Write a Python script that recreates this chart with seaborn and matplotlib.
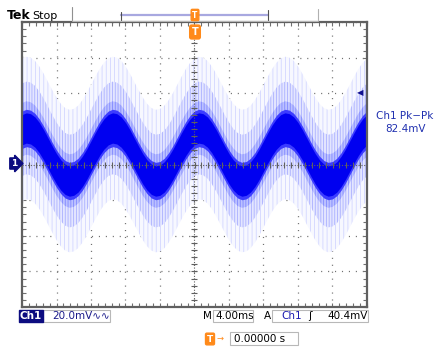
import matplotlib
matplotlib.use("Agg")
import matplotlib.pyplot as plt
import numpy as np
import pandas as pd
import seaborn as sns

t_ms = [x / 2 for x in range(-40, 41)]
center_mv = [19.5, 20.5, 20.0, 18.2, 15.1, 11.1, 6.5, 1.9, -2.4, -5.9,
             -8.3, -9.3, -8.8, -7.0, -3.9, 0.1, 4.7, 9.3, 13.6, 17.1,
             19.5, 20.5, 20.0, 18.2, 15.1, 11.1, 6.5, 1.9, -2.4, -5.9,
             -8.3, -9.3, -8.8, -7.0, -3.9, 0.1, 4.7, 9.3, 13.6, 17.1,
             19.5, 20.5, 20.0, 18.2, 15.1, 11.1, 6.5, 1.9, -2.4, -5.9,
             -8.3, -9.3, -8.8, -7.0, -3.9, 0.1, 4.7, 9.3, 13.6, 17.1,
             19.5, 20.5, 20.0, 18.2, 15.1, 11.1, 6.5, 1.9, -2.4, -5.9,
             -8.3, -9.3, -8.8, -7.0, -3.9, 0.1, 4.7, 9.3, 13.6, 17.1,
             19.5]
core_half_mv = 8.5
edge_half_mv = 10.5
noise_layers_mv = [40, 26, 15]

ch1_label = "Ch1"
scale_label = "20.0mV"
timebase_label = "4.00ms"
trig_level_label = "40.4mV"
pkpk_title = "Ch1 Pk\u2212Pk"
pkpk_value = "82.4mV"
trig_pos_label = "0.00000 s"
trig_level_mv = 40.4

df = pd.DataFrame({"t": t_ms, "v": center_mv})

sns.set_theme(style="white")
plt.rcParams["font.family"] = ["DejaVu Sans"]
plt.rcParams["lines.scale_dashes"] = False
plt.rcParams["hatch.linewidth"] = 0.6

W, H = 440, 352
fig = plt.figure(figsize=(W / 100, H / 100), dpi=100)
fig.patch.set_facecolor("white")

def fx(px):
    return px / W

def fy(py):
    return 1 - py / H

ax = fig.add_axes([fx(22), fy(307), fx(367) - fx(22), fy(22) - fy(307)])
ax.set_xlim(-20, 20)
ax.set_ylim(-80, 80)
ax.set_facecolor("white")

# noise layers (outer -> inner)
ax.fill_between(df["t"], df["v"] - noise_layers_mv[0], df["v"] + noise_layers_mv[0],
                facecolor="#f7f8ff", edgecolor="#d2d6ff", hatch="||||", lw=0, zorder=1)
ax.fill_between(df["t"], df["v"] - noise_layers_mv[1], df["v"] + noise_layers_mv[1],
                facecolor="#e4e6ff", edgecolor="#aab0ff", hatch="||||||", lw=0, zorder=1.1)
ax.fill_between(df["t"], df["v"] - noise_layers_mv[2], df["v"] + noise_layers_mv[2],
                facecolor="#bcc1ff", edgecolor="#8088ff", hatch="||||||", lw=0, zorder=1.2)
ax.fill_between(df["t"], df["v"] - edge_half_mv, df["v"] + edge_half_mv,
                color="#3c3cff", lw=0, zorder=1.3)
ax.fill_between(df["t"], df["v"] - core_half_mv, df["v"] + core_half_mv,
                color="#0000f0", lw=0, zorder=1.35)
sns.lineplot(data=df, x="t", y="v", color="#0000f0", lw=1, ax=ax, zorder=1.4)

# graticule
major_x = np.arange(-20, 20.01, 4)
minor_x = np.arange(-20, 20.01, 0.8)
major_y = np.arange(-80, 80.01, 20)
minor_y = np.arange(-80, 80.01, 4)
ax.set_xticks(major_x)
ax.set_xticks(minor_x, minor=True)
ax.set_yticks(major_y)
ax.set_yticks(minor_y, minor=True)
ax.set_xticklabels([])
ax.set_yticklabels([])
ax.set_xlabel("")
ax.set_ylabel("")
ax.tick_params(which="both", direction="in", top=True, right=True, bottom=True, left=True,
               color="#707070", width=0.8)
ax.tick_params(which="major", length=3)
ax.tick_params(which="minor", length=3)
ax.grid(True, which="major", color="#707070", lw=0.9, linestyle=(0, (0.8, 4.2)), zorder=2)
for s in ax.spines.values():
    s.set_color("#606060")
    s.set_linewidth(1.6)
    s.set_visible(True)
# center crosshair ticks
ax.plot(minor_x, np.zeros_like(minor_x), ls="none", marker="|", ms=4, mew=0.8, color="#606060", zorder=2)
ax.plot(np.zeros_like(minor_y), minor_y, ls="none", marker="_", ms=4, mew=0.8, color="#606060", zorder=2)
ax.axhline(0, color="#606060", lw=0.8, ls=(0, (0.8, 1.2)), zorder=2)
ax.axvline(0, color="#606060", lw=0.8, ls=(0, (0.8, 1.2)), zorder=2)

# trigger level arrow on the right edge
ax.annotate("\u25C0", xy=(20, trig_level_mv), xytext=(-5, 0), textcoords="offset points",
            ha="center", va="center", fontsize=6, color="#101090", annotation_clip=False)

# ---- header ----
fig.text(fx(7), fy(19), "Tek", fontsize=9, fontweight="bold", color="black", ha="left", va="baseline")
fig.text(fx(32), fy(19), "Stop", fontsize=8, color="black", ha="left", va="baseline")
fig.add_artist(plt.Line2D([fx(72), fx(72)], [fy(7), fy(20)], color="#909090", lw=0.8))
fig.add_artist(plt.Line2D([fx(318), fx(318)], [fy(9), fy(20)], color="#b0b0b0", lw=0.8))
fig.add_artist(plt.Line2D([fx(72), fx(318)], [fy(20.5), fy(20.5)], color="#c8c8c8", lw=0.6))
fig.add_artist(plt.Line2D([fx(121), fx(268)], [fy(14.7), fy(14.7)], color="#a8a8e0", lw=1.6))
fig.add_artist(plt.Line2D([fx(121), fx(121)], [fy(12), fy(20)], color="#505050", lw=0.8))
fig.add_artist(plt.Line2D([fx(268), fx(268)], [fy(10), fy(20)], color="#505050", lw=0.8))
# small trigger flag on the record bar
fig.text(fx(195), fy(15), "T", fontsize=5.5, fontweight="bold", color="white", ha="center", va="center",
         bbox=dict(boxstyle="round,pad=0.15", fc="#ff8a1a", ec="#ff8a1a"))
# trigger position marker
fig.text(fx(195), fy(32), "T", fontsize=7, fontweight="bold", color="white", ha="center", va="center",
         bbox=dict(boxstyle="round,pad=0.2", fc="#ff8a1a", ec="#ff8a1a"))

# channel ground marker
fig.text(fx(14), fy(163.5), "1", fontsize=6.5, fontweight="bold", color="white", ha="center", va="center",
         bbox=dict(boxstyle="rarrow,pad=0.12", fc="#0c0c80", ec="#0c0c80"))

# measurement readout
fig.text(fx(405), fy(116), pkpk_title, fontsize=7.5, color="#2030b0", ha="center", va="center")
fig.text(fx(405), fy(129), pkpk_value, fontsize=7.5, color="#2030b0", ha="center", va="center")

# ---- footer ----
fig.text(fx(31), fy(316), ch1_label, fontsize=7.5, fontweight="bold", color="white", ha="center", va="center",
         bbox=dict(boxstyle="square,pad=0.12", fc="#0c0c80", ec="#0c0c80"))
fig.text(fx(52), fy(316), scale_label + "\u223f\u223f", fontsize=7.5, color="#1a1a8a", ha="left", va="center")
fig.add_artist(plt.Rectangle((fx(43), fy(322)), fx(110) - fx(43), fy(310) - fy(322), fill=False,
                             ec="#b8b8b8", lw=0.8, transform=fig.transFigure))
fig.text(fx(203), fy(316), "M", fontsize=7.5, color="black", ha="left", va="center")
fig.text(fx(215), fy(316), timebase_label, fontsize=7.5, color="black", ha="left", va="center")
fig.add_artist(plt.Rectangle((fx(213), fy(322)), fx(253) - fx(213), fy(310) - fy(322), fill=False,
                             ec="#b8b8b8", lw=0.8, transform=fig.transFigure))
fig.text(fx(264), fy(316), "A", fontsize=7.5, color="black", ha="left", va="center")
fig.text(fx(281), fy(316), ch1_label, fontsize=7.5, color="#1a1ab0", ha="left", va="center")
fig.text(fx(308), fy(316), "\u0283", fontsize=7.5, color="black", ha="left", va="center")
fig.text(fx(327), fy(316), trig_level_label, fontsize=7.5, color="black", ha="left", va="center")
fig.add_artist(plt.Rectangle((fx(272), fy(322)), fx(368) - fx(272), fy(310) - fy(322), fill=False,
                             ec="#b8b8b8", lw=0.8, transform=fig.transFigure))

fig.text(fx(210), fy(339), "T", fontsize=6.5, fontweight="bold", color="white", ha="center", va="center",
         bbox=dict(boxstyle="round,pad=0.15", fc="#ff8a1a", ec="#ff8a1a"))
fig.text(fx(220), fy(338), "\u2192", fontsize=6, color="#ff8a1a", ha="center", va="center")
fig.text(fx(234), fy(339), trig_pos_label, fontsize=7.5, color="black", ha="left", va="center")
fig.add_artist(plt.Rectangle((fx(230), fy(345)), fx(298) - fx(230), fy(332) - fy(345), fill=False,
                             ec="#b8b8b8", lw=0.8, transform=fig.transFigure))

fig.savefig("out.png", dpi=100, facecolor="white")
